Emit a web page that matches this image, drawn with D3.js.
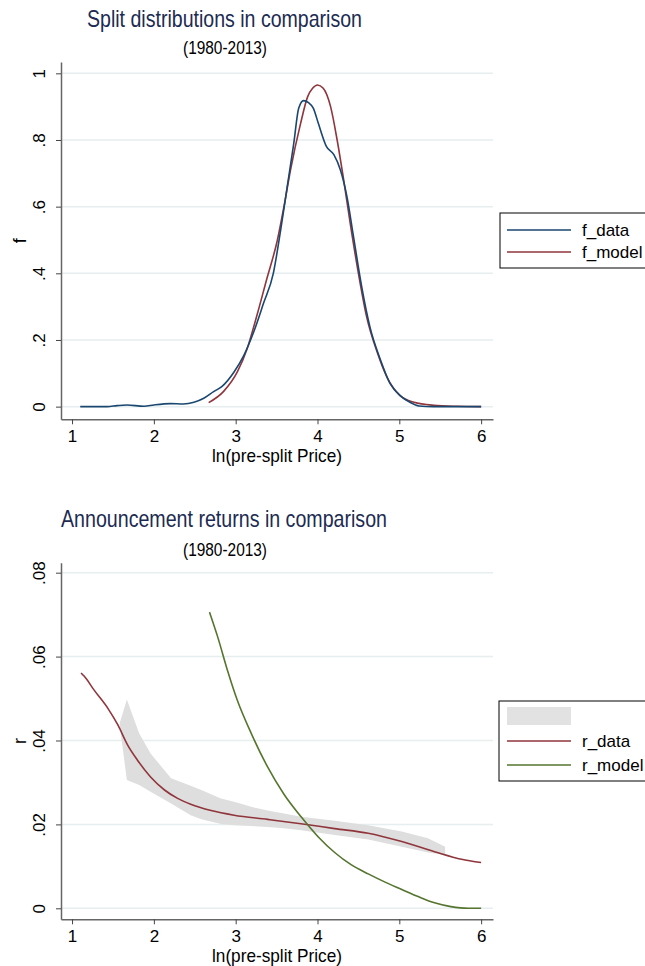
<!DOCTYPE html>
<html>
<head>
<meta charset="utf-8">
<script src="https://cdn.jsdelivr.net/npm/d3@7"></script>
<style>
body { margin: 0; background: #fff; }
text { font-family: "Liberation Sans", Arial, sans-serif; }
</style>
</head>
<body>
<div class="canva"></div>
<script>
// ticks
const xTicks = [1, 2, 3, 4, 5, 6];
const fTicks = [0, 0.2, 0.4, 0.6, 0.8, 1];
const fTickLabels = ['0', '.2', '.4', '.6', '.8', '1'];
const rTicks = [0, 0.02, 0.04, 0.06, 0.08];
const rTickLabels = ['0', '.02', '.04', '.06', '.08'];

// top panel: densities
const fDataX = [1.10, 1.43, 1.55, 1.67, 1.88, 2.00, 2.20, 2.36, 2.49, 2.61, 2.73, 2.83, 2.98, 3.10, 3.22, 3.34, 3.46, 3.55, 3.63, 3.71, 3.77, 3.83, 3.89, 3.95, 4.01, 4.11, 4.20, 4.28, 4.36, 4.44, 4.54, 4.64, 4.77, 4.89, 5.01, 5.13, 5.24, 5.42, 6.00];
const fDataY = [0, 0, 0.003, 0.005, 0.001, 0.005, 0.009, 0.008, 0.013, 0.025, 0.045, 0.06, 0.104, 0.154, 0.224, 0.31, 0.40, 0.53, 0.66, 0.79, 0.895, 0.918, 0.912, 0.895, 0.85, 0.78, 0.756, 0.71, 0.63, 0.51, 0.36, 0.24, 0.14, 0.068, 0.033, 0.013, 0.002, 0, 0];
const fModelX = [2.67, 2.85, 3.02, 3.14, 3.26, 3.38, 3.51, 3.59, 3.67, 3.79, 3.88, 3.94, 4.00, 4.07, 4.16, 4.24, 4.32, 4.40, 4.50, 4.60, 4.73, 4.85, 5.01, 5.18, 5.42, 5.70, 6.00];
const fModelY = [0.012, 0.045, 0.104, 0.174, 0.274, 0.383, 0.50, 0.60, 0.71, 0.846, 0.93, 0.955, 0.965, 0.955, 0.90, 0.80, 0.68, 0.55, 0.40, 0.27, 0.163, 0.088, 0.033, 0.013, 0.004, 0.001, 0];

// bottom panel: announcement returns
const rDataX = [1.11, 1.15, 1.27, 1.44, 1.56, 1.68, 1.80, 1.96, 2.13, 2.29, 2.45, 2.70, 2.98, 3.39, 3.82, 4.21, 4.62, 5.03, 5.43, 5.76, 6.00];
const rDataY = [0.0561, 0.0553, 0.052, 0.0476, 0.0437, 0.0389, 0.0353, 0.0313, 0.0282, 0.0262, 0.0248, 0.0233, 0.0222, 0.0212, 0.0201, 0.019, 0.0179, 0.0159, 0.0135, 0.0117, 0.0109];
const bandX = [1.58, 1.67, 1.82, 1.96, 2.21, 2.45, 2.58, 2.82, 2.98, 3.19, 3.39, 3.59, 3.80, 4.21, 4.62, 5.03, 5.35, 5.56];
const bandHi = [0.044, 0.0498, 0.0417, 0.0369, 0.031, 0.0292, 0.0282, 0.0262, 0.0254, 0.0242, 0.0233, 0.0226, 0.0218, 0.0209, 0.0198, 0.0183, 0.0167, 0.0147];
const bandLo = [0.044, 0.0306, 0.0294, 0.0278, 0.025, 0.0222, 0.0212, 0.0201, 0.0198, 0.0196, 0.0194, 0.0191, 0.0186, 0.0175, 0.0164, 0.0147, 0.0133, 0.0127];
const rModelX = [2.68, 2.78, 2.90, 3.02, 3.19, 3.39, 3.59, 3.80, 4.01, 4.21, 4.41, 4.62, 4.82, 5.03, 5.23, 5.43, 5.63, 5.84, 6.00];
const rModelY = [0.0706, 0.0647, 0.0567, 0.0496, 0.0417, 0.0337, 0.0272, 0.0218, 0.0170, 0.0133, 0.0104, 0.0082, 0.0063, 0.0045, 0.0028, 0.0013, 0.0004, 0, 0];

const navy = '#1a476f', maroon = '#90353b', green = '#55752f';
const titleColor = '#1c2b52';

const svg = d3.select('.canva').append('svg')
    .attr('width', 645)
    .attr('height', 966);

const plotLeft = 61, plotRight = 493;

function drawPanel(top, bottom, yDomain, yTicks, yLabels, yTitle) {
    var x = d3.scaleLinear().domain([0.865, 6.145]).range([plotLeft, plotRight]);
    var y = d3.scaleLinear().domain(yDomain).range([bottom, top]);

    // gridlines
    svg.append('g').selectAll('line')
        .data(yTicks)
        .enter().append('line')
        .attr('x1', plotLeft).attr('x2', plotRight)
        .attr('y1', d => y(d)).attr('y2', d => y(d))
        .attr('stroke', '#e6eef0')
        .attr('stroke-width', 1.5);

    var xAxis = d3.axisBottom(x).tickValues(xTicks).tickFormat(d3.format('d'))
        .tickSize(5).tickSizeOuter(0);
    var gx = svg.append('g')
        .attr('transform', `translate(0,${bottom})`)
        .call(xAxis);
    gx.select('.domain').attr('stroke', '#666').attr('stroke-width', 1.5);
    gx.selectAll('.tick line').attr('stroke', '#444');
    gx.selectAll('text')
        .attr('y', 22.5).attr('dy', 0)
        .attr('font-size', 17).attr('fill', '#000')
        .style('font-family', '"Liberation Sans", Arial, sans-serif');

    var yAxis = d3.axisLeft(y).tickValues(yTicks)
        .tickFormat((d, i) => yLabels[i]).tickSize(5).tickSizeOuter(0);
    var gy = svg.append('g')
        .attr('transform', `translate(${plotLeft},0)`)
        .call(yAxis);
    gy.select('.domain').attr('stroke', '#666').attr('stroke-width', 1.5);
    gy.selectAll('.tick line').attr('stroke', '#444');
    gy.selectAll('text')
        .attr('transform', 'rotate(-90)')
        .attr('x', 0).attr('y', -16).attr('dy', 0)
        .attr('text-anchor', 'middle')
        .attr('font-size', 17).attr('fill', '#000')
        .style('font-family', '"Liberation Sans", Arial, sans-serif');

    // axis titles
    svg.append('text')
        .attr('transform', `translate(26,${(top + bottom) / 2}) rotate(-90)`)
        .attr('text-anchor', 'middle')
        .attr('font-size', 18)
        .text(yTitle);

    svg.append('text')
        .attr('x', 212).attr('y', bottom + 42.5)
        .attr('font-size', 19)
        .attr('textLength', 130).attr('lengthAdjust', 'spacingAndGlyphs')
        .text('ln(pre-split Price)');

    return {x: x, y: y};
}

function addTitle(title, titleX, titleY, titleLen, subY) {
    svg.append('text')
        .attr('x', titleX).attr('y', titleY)
        .attr('font-size', 24).attr('fill', titleColor)
        .attr('textLength', titleLen).attr('lengthAdjust', 'spacingAndGlyphs')
        .text(title);
    svg.append('text')
        .attr('x', 183).attr('y', subY)
        .attr('font-size', 18)
        .attr('textLength', 84).attr('lengthAdjust', 'spacingAndGlyphs')
        .text('(1980-2013)');
}

function drawLine(sc, xs, ys, color) {
    var line = d3.line()
        .x((d, i) => sc.x(xs[i]))
        .y(d => sc.y(d))
        .curve(d3.curveMonotoneX);
    svg.append('path')
        .datum(ys)
        .attr('fill', 'none')
        .attr('stroke', color)
        .attr('stroke-width', 1.6)
        .attr('d', line);
}

function legendBox(x0, y0, h, items) {
    svg.append('rect')
        .attr('x', x0).attr('y', y0)
        .attr('width', 170).attr('height', h)
        .attr('fill', '#fff').attr('stroke', '#000').attr('stroke-width', 1);
    items.forEach(it => {
        if (it.area) {
            svg.append('rect')
                .attr('x', 507).attr('y', it.y - 9)
                .attr('width', 64).attr('height', 18)
                .attr('fill', '#e2e2e2');
        } else {
            svg.append('line')
                .attr('x1', 507).attr('x2', 571)
                .attr('y1', it.y).attr('y2', it.y)
                .attr('stroke', it.color).attr('stroke-width', 1.6);
            svg.append('text')
                .attr('x', 582).attr('y', it.y + 6)
                .attr('font-size', 17)
                .text(it.label);
        }
    });
}

// ---- top panel
addTitle('Split distributions in comparison', 87, 27, 275, 54);
var topPanel = drawPanel(62, 419.3, [-0.038, 1.034], fTicks, fTickLabels, 'f');
drawLine(topPanel, fModelX, fModelY, maroon);
drawLine(topPanel, fDataX, fDataY, navy);
legendBox(500, 213, 55, [
    {y: 230, color: navy, label: 'f_data'},
    {y: 252, color: maroon, label: 'f_model'}
]);

// ---- bottom panel
addTitle('Announcement returns in comparison', 61, 527, 326, 556);
var botPanel = drawPanel(562.7, 919.3, [-0.00262, 0.08238], rTicks, rTickLabels, 'r');

var band = d3.area()
    .x((d, i) => botPanel.x(bandX[i]))
    .y0((d, i) => botPanel.y(bandLo[i]))
    .y1(d => botPanel.y(d));
svg.append('path')
    .datum(bandHi)
    .attr('fill', '#dedede')
    .attr('stroke', 'none')
    .attr('d', band);

drawLine(botPanel, rDataX, rDataY, maroon);
drawLine(botPanel, rModelX, rModelY, green);
legendBox(499, 701, 80, [
    {y: 716, area: true},
    {y: 741, color: maroon, label: 'r_data'},
    {y: 765, color: green, label: 'r_model'}
]);
</script>
</body>
</html>
